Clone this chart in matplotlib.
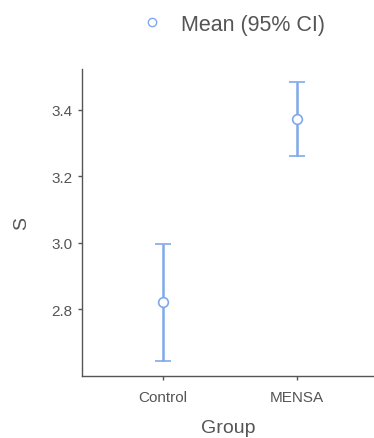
import matplotlib
matplotlib.use("Agg")
import matplotlib.pyplot as plt
from matplotlib.lines import Line2D

groups = ["Control", "MENSA"]
means = [2.822, 3.373]
ci_lower = [2.643, 3.261]
ci_upper = [2.995, 3.484]
yticks = [2.8, 3.0, 3.2, 3.4]

color = "#7fa9ec"
plt.rcParams['font.family'] = ['Liberation Sans', 'DejaVu Sans']

fig = plt.figure(figsize=(3.74, 4.39), dpi=100)
ax = fig.add_axes([0.219, 0.141, 0.781, 0.700])

x = list(range(len(groups)))
yerr = [[m - l for m, l in zip(means, ci_lower)], [u - m for m, u in zip(means, ci_upper)]]
ax.errorbar(x, means, yerr=yerr, fmt='o', color=color, ecolor=color, elinewidth=1.8,
            capsize=6, capthick=1.8, markersize=7, markerfacecolor='white',
            markeredgecolor=color, markeredgewidth=1.2)

ax.set_xlim(-0.6, 1.57)
ax.set_ylim(2.598, 3.524)
ax.set_xticks(x)
ax.set_xticklabels(groups)
ax.set_yticks(yticks)
ax.set_yticklabels([f"{t:.1f}" for t in yticks])
for s in ["top", "right"]:
    ax.spines[s].set_visible(False)
for s in ["left", "bottom"]:
    ax.spines[s].set_color("#555555")
    ax.spines[s].set_linewidth(1.0)
ax.tick_params(colors="#555555", labelsize=11, length=3, width=1)
ax.tick_params(axis='x', pad=7)
ax.tick_params(axis='y', pad=4)
ax.set_xlabel("Group", fontsize=14, color="#555555", labelpad=11)
ax.set_ylabel("S", fontsize=14, color="#555555", labelpad=15)

handle = Line2D([], [], marker='o', linestyle='none', markersize=6, markerfacecolor='white',
                markeredgecolor=color, markeredgewidth=1.0)
fig.legend([handle], ["Mean (95% CI)"], loc='center', bbox_to_anchor=(0.61, 0.943),
           frameon=False, fontsize=15.5, labelcolor="#555555", handletextpad=0.35)

fig.savefig("out.png", dpi=100, facecolor="white")
